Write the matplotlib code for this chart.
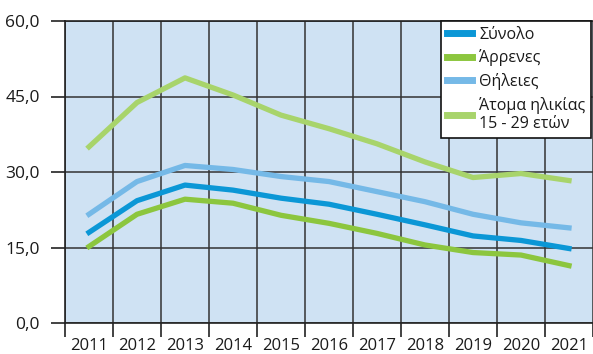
import numpy as np
import matplotlib.pyplot as plt
from matplotlib.ticker import FixedLocator

plt.rcParams['font.family'] = ['Open Sans', 'DejaVu Sans']

etos = ['2011', '2012', '2013', '2014', '2015', '2016', '2017', '2018', '2019', '2020', '2021']
synolo = [18.0, 24.3, 27.4, 26.4, 24.8, 23.6, 21.6, 19.5, 17.3, 16.4, 14.8]
arrenes = [15.2, 21.6, 24.6, 23.8, 21.4, 19.8, 17.8, 15.5, 14.0, 13.5, 11.4]
thileis = [21.6, 28.1, 31.3, 30.5, 29.1, 28.1, 26.1, 24.1, 21.6, 19.9, 18.9]
neoi = [35.0, 43.8, 48.7, 45.3, 41.3, 38.6, 35.6, 32.0, 28.9, 29.7, 28.3]

fig = plt.figure(figsize=(5.93, 3.54), dpi=100)
ax = fig.add_axes([65/593, 31/354, 1 - 65/593, 302/354])
ax.set_facecolor('#cfe2f3')

x = np.arange(len(etos))
ax.plot(x, synolo, color='#0b97d6', lw=3.8, label='Σύνολο', zorder=5)
ax.plot(x, arrenes, color='#8cc63e', lw=3.8, label='Άρρενες', zorder=4)
ax.plot(x, thileis, color='#75b9e7', lw=3.8, label='Θήλειες', zorder=3)
ax.plot(x, neoi, color='#a8d46b', lw=3.8, label='Άτομα ηλικίας\n15 - 29 ετών', zorder=3)

ax.set_xlim(-0.5, len(etos) - 0.5)
ax.set_ylim(0, 60)

# grammes plegmatos sta oria ton eton
ax.xaxis.set_major_locator(FixedLocator(np.arange(-0.5, len(etos), 1.0)))
ax.xaxis.set_minor_locator(FixedLocator(x))
ax.set_xticklabels([], minor=False)
ax.set_xticklabels(etos, minor=True)
ax.tick_params(axis='x', which='major', length=10, width=1.2, color='#222222')
ax.tick_params(axis='x', which='minor', length=0, pad=11, labelsize=12, labelcolor='#1a1a1a')

ax.set_yticks([0, 15, 30, 45, 60])
ax.set_yticklabels(['0,0', '15,0', '30,0', '45,0', '60,0'])
ax.tick_params(axis='y', length=10, width=1.2, color='#222222', pad=8, labelsize=12.5, labelcolor='#1a1a1a')

ax.grid(True, which='major', color='#333333', lw=1.1)
ax.set_axisbelow(True)
ax.spines['right'].set_visible(False)
for s in ['left', 'bottom', 'top']:
    ax.spines[s].set_color('#222222')
    ax.spines[s].set_linewidth(1.2)

leg = ax.legend(loc='upper left', bbox_to_anchor=((441 - 65) / 528, 1.0),
                frameon=True, fancybox=False, fontsize=11.5, handlelength=1.6,
                handletextpad=0.45, borderpad=0.35, labelspacing=0.42, borderaxespad=0)
leg.get_frame().set_edgecolor('#111111')
leg.get_frame().set_linewidth(1.2)
leg.get_frame().set_alpha(1)
for t in leg.get_texts():
    t.set_color('#1a1a1a')
for h in leg.get_lines():
    h.set_linewidth(5)
leg.set_zorder(10)

plt.savefig('out.png', dpi=100)
